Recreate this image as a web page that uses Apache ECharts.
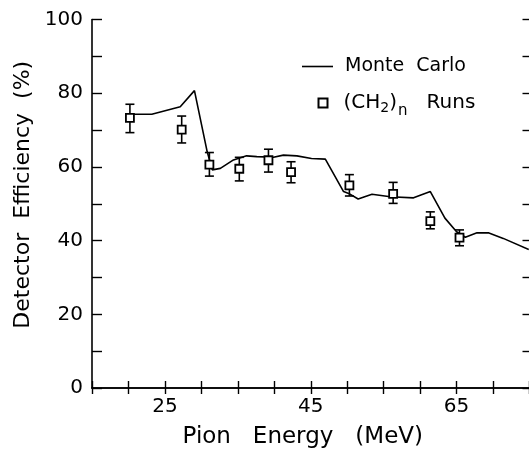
<!DOCTYPE html>
<html><head><meta charset="utf-8">
<script src="https://cdn.jsdelivr.net/npm/echarts@6/dist/echarts.min.js"></script>
<style>html,body{margin:0;padding:0;background:#fff}#c{width:529px;height:449px}</style>
</head><body><div id="c"></div>
<script>
// (CH2)n runs: energy (MeV), efficiency (%), error bar ends
const runEnergy = [20.2, 27.3, 31.1, 35.2, 39.2, 42.3, 50.3, 56.3, 61.4, 65.4];
const runEff    = [73.3, 70.1, 60.6, 59.5, 61.8, 58.6, 55.0, 52.7, 45.3, 40.8];
const runErrHi  = [77.0, 73.8, 63.9, 62.6, 64.8, 61.4, 57.9, 55.8, 47.8, 42.9];
const runErrLo  = [69.3, 66.5, 57.5, 56.2, 58.6, 55.7, 52.1, 50.1, 43.2, 38.6];
// Monte Carlo curve
const mcEnergy = [20.2, 23.2, 27.1, 29.05, 30.8, 31.5, 32.6, 34.4, 36.2, 37.6, 39.9, 41.25, 43.1, 45.1, 47.0, 49.5, 50.2, 51.5, 53.4, 55.9, 59.1, 61.4, 63.4, 65.0, 66.2, 67.8, 69.35, 71.4, 74.9];
const mcEff    = [74.3, 74.3, 76.3, 80.7, 64.1, 59.2, 59.6, 61.9, 63.0, 62.8, 62.6, 63.2, 63.0, 62.3, 62.1, 53.3, 52.8, 51.3, 52.6, 51.9, 51.6, 53.3, 46.1, 42.4, 40.9, 42.1, 42.1, 40.6, 37.6];
const xLabelValues = [25, 45, 65];
const yLabelValues = [0, 20, 40, 60, 80, 100];

const FONT = 'DejaVu Sans';
const chart = echarts.init(document.getElementById('c'), null, {renderer: 'canvas'});
const axisLine = {show: true, lineStyle: {color: '#000', width: 1.6}};
const option = {
  backgroundColor: '#fff',
  animation: false,
  grid: {left: 92, top: 19.5, width: 437.5, height: 368.5, containLabel: false, outerBoundsMode: 'none'},
  legend: [
    {
      data: [{name: 'Monte Carlo', icon: 'rect'}], left: 302, top: 57, padding: 0,
      itemWidth: 31, itemHeight: 1.6,
      textStyle: {fontFamily: FONT, fontSize: 19, color: '#000', padding: [0, 0, 0, 7]},
      formatter: () => 'Monte  Carlo'
    },
    {
      data: ['(CH2)n Runs'], left: 317.5, top: 93, padding: 0,
      itemWidth: 9, itemHeight: 9,
      formatter: () => '{a|(CH}{s|2}{a|)}{n|n}{a|   Runs}',
      textStyle: {
        fontFamily: FONT, fontSize: 20, color: '#000', padding: [0, 0, 0, 11],
        rich: {
          a: {fontFamily: FONT, fontSize: 20, color: '#000', lineHeight: 20, verticalAlign: 'top'},
          s: {fontFamily: FONT, fontSize: 14, color: '#000', lineHeight: 14, verticalAlign: 'top', padding: [8, 0, 0, 0]},
          n: {fontFamily: FONT, fontSize: 15, color: '#000', lineHeight: 14, verticalAlign: 'top', padding: [11, 0, 0, 1]}
        }
      }
    }
  ],
  xAxis: [
    {
      type: 'value', position: 'bottom', min: 15, max: 75, interval: 5,
      axisLine, splitLine: {show: false},
      axisTick: {show: true, inside: true, length: 7, lineStyle: {color: '#000', width: 1.4}},
      axisLabel: {
        margin: 9, fontFamily: FONT, fontSize: 20, color: '#000', showMinLabel: true, showMaxLabel: true,
        formatter: v => (xLabelValues.indexOf(v) >= 0 ? String(v) : '')
      },
      name: 'Pion   Energy   (MeV)', nameLocation: 'middle', nameGap: 38,
      nameTextStyle: {fontFamily: FONT, fontSize: 23, color: '#000', padding: [0, 16, 0, 0]}
    },
    {
      type: 'value', position: 'top', min: 15, max: 75, interval: 5,
      axisLine, splitLine: {show: false},
      axisTick: {show: true, inside: true, length: 6, lineStyle: {color: '#000', width: 1.4}},
      axisLabel: {show: false}
    }
  ],
  yAxis: [
    {
      type: 'value', position: 'left', min: 0, max: 100, interval: 10,
      axisLine, splitLine: {show: false},
      axisTick: {show: true, inside: true, length: 10, lineStyle: {color: '#000', width: 1.4}},
      axisLabel: {
        margin: 9, fontFamily: FONT, fontSize: 20, color: '#000',
        formatter: v => (yLabelValues.indexOf(v) >= 0 ? String(v) : '')
      },
      name: 'Detector  Efficiency  (%)', nameLocation: 'middle', nameGap: 54,
      nameTextStyle: {fontFamily: FONT, fontSize: 22, color: '#000', padding: [0, 0, 0, 18]}
    },
    {
      type: 'value', position: 'right', min: 0, max: 100, interval: 10,
      axisLine, splitLine: {show: false},
      axisTick: {show: true, inside: true, length: 7, lineStyle: {color: '#000', width: 1.4}},
      axisLabel: {show: false}
    }
  ],
  series: [
    {
      name: 'Monte Carlo', type: 'line', xAxisIndex: 0, yAxisIndex: 0,
      data: mcEnergy.map((e, i) => [e, mcEff[i]]),
      symbol: 'none', smooth: false, z: 2,
      lineStyle: {color: '#000', width: 1.6},
      itemStyle: {color: '#000'}
    },
    {
      name: 'errors', type: 'custom', xAxisIndex: 0, yAxisIndex: 0, z: 3,
      data: runEnergy.map((e, i) => [e, runErrLo[i], runErrHi[i]]),
      encode: {x: 0, y: [1, 2]},
      renderItem: (params, api) => {
        const x = api.value(0);
        const lo = api.coord([x, api.value(1)]);
        const hi = api.coord([x, api.value(2)]);
        const w = 4.5;
        const st = {stroke: '#000', lineWidth: 1.6};
        return {
          type: 'group',
          children: [
            {type: 'line', shape: {x1: lo[0], y1: lo[1], x2: hi[0], y2: hi[1]}, style: st},
            {type: 'line', shape: {x1: lo[0] - w, y1: lo[1], x2: lo[0] + w, y2: lo[1]}, style: st},
            {type: 'line', shape: {x1: hi[0] - w, y1: hi[1], x2: hi[0] + w, y2: hi[1]}, style: st}
          ]
        };
      }
    },
    {
      name: '(CH2)n Runs', type: 'scatter', xAxisIndex: 0, yAxisIndex: 0, z: 4,
      data: runEnergy.map((e, i) => [e, runEff[i]]),
      symbol: 'rect', symbolSize: 8,
      itemStyle: {color: '#fff', borderColor: '#000', borderWidth: 1.8, opacity: 1}
    }
  ]
};
chart.setOption(option);
</script>
</body></html>
